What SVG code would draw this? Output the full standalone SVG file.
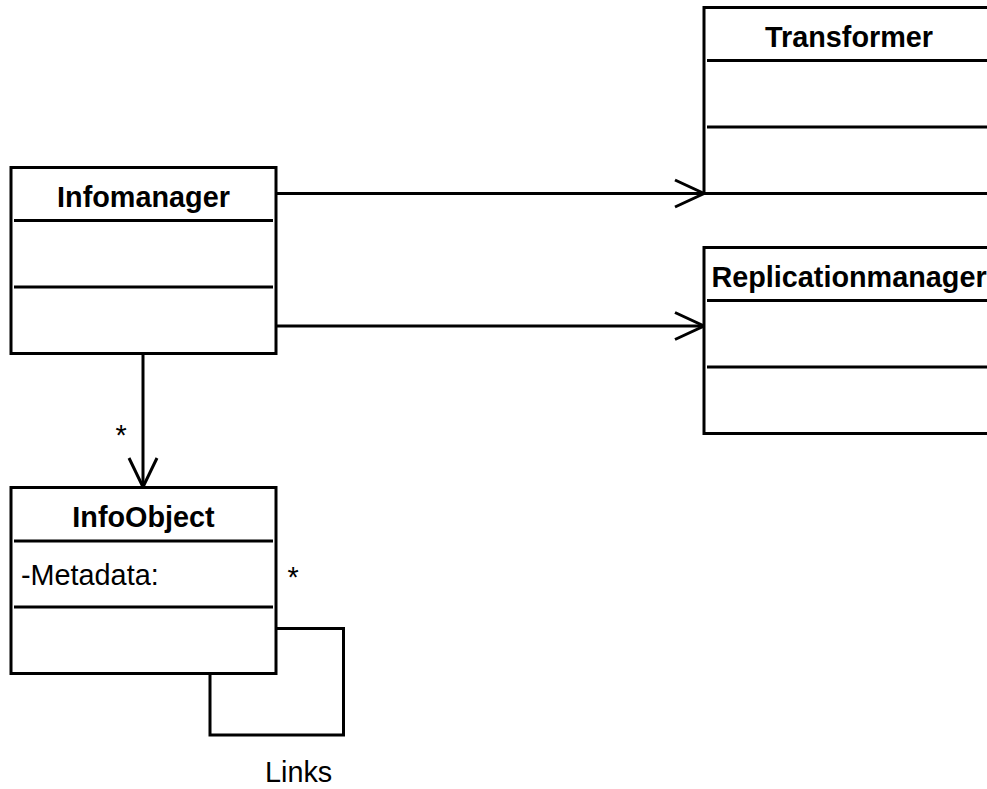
<svg xmlns="http://www.w3.org/2000/svg" width="987" height="789" viewBox="0 0 987 789">
  <style>
    .box { fill: #ffffff; stroke: #000000; stroke-width: 3; }
    .div { stroke: #000000; stroke-width: 3; fill: none; }
    .edge { stroke: #000000; stroke-width: 3; fill: none; }
    .title { font-family: "Liberation Sans", Arial, sans-serif; font-size: 28.8px; font-weight: bold; text-anchor: middle; fill: #000000; }
    .attr { font-family: "Liberation Sans", Arial, sans-serif; font-size: 28.8px; fill: #000000; }
    .mult { font-family: "Liberation Sans", Arial, sans-serif; font-size: 28.8px; text-anchor: middle; fill: #000000; }
  </style>
  <rect width="987" height="789" fill="#ffffff"/>

  <!-- connectors -->
  <g id="connectors">
    <!-- Infomanager -> Transformer -->
    <path class="edge" d="M276 193.5 H704"/>
    <path class="edge" d="M675 180 L704 193.5 L675 207"/>
    <!-- Infomanager -> Replicationmanager -->
    <path class="edge" d="M276 326 H704"/>
    <path class="edge" d="M675 312.5 L704 326 L675 339.5"/>
    <!-- Infomanager -> InfoObject -->
    <path class="edge" d="M143 353 V487"/>
    <path class="edge" d="M129 458 L143 487 L157 458"/>
    <text class="mult" x="121" y="445">*</text>
    <!-- InfoObject self association -->
    <path class="edge" d="M276 628.5 H343.5 V735 H210 V674"/>
    <text class="mult" x="293" y="587">*</text>
    <text class="attr" x="265" y="782">Links</text>
  </g>

  <g id="infomanager">
    <rect class="box" x="11" y="167.5" width="265" height="186"/>
    <line class="div" x1="14" y1="220.5" x2="273" y2="220.5"/>
    <line class="div" x1="14" y1="287" x2="273" y2="287"/>
    <text class="title" x="143.5" y="206.5">Infomanager</text>
  </g>

  <g id="transformer">
    <rect class="box" x="704" y="7.5" width="290" height="186"/>
    <line class="div" x1="707" y1="60.5" x2="991" y2="60.5"/>
    <line class="div" x1="707" y1="127" x2="991" y2="127"/>
    <text class="title" x="849" y="46.5">Transformer</text>
  </g>

  <g id="replicationmanager">
    <rect class="box" x="704" y="247.5" width="290" height="186"/>
    <line class="div" x1="707" y1="300.5" x2="991" y2="300.5"/>
    <line class="div" x1="707" y1="367" x2="991" y2="367"/>
    <text class="title" x="849" y="286.5">Replicationmanager</text>
  </g>

  <g id="infoobject">
    <rect class="box" x="11" y="487.5" width="265" height="186"/>
    <line class="div" x1="14" y1="541" x2="273" y2="541"/>
    <line class="div" x1="14" y1="607" x2="273" y2="607"/>
    <text class="title" x="143.5" y="526.5">InfoObject</text>
    <text class="attr" x="21" y="585">-Metadata:</text>
  </g>
</svg>
